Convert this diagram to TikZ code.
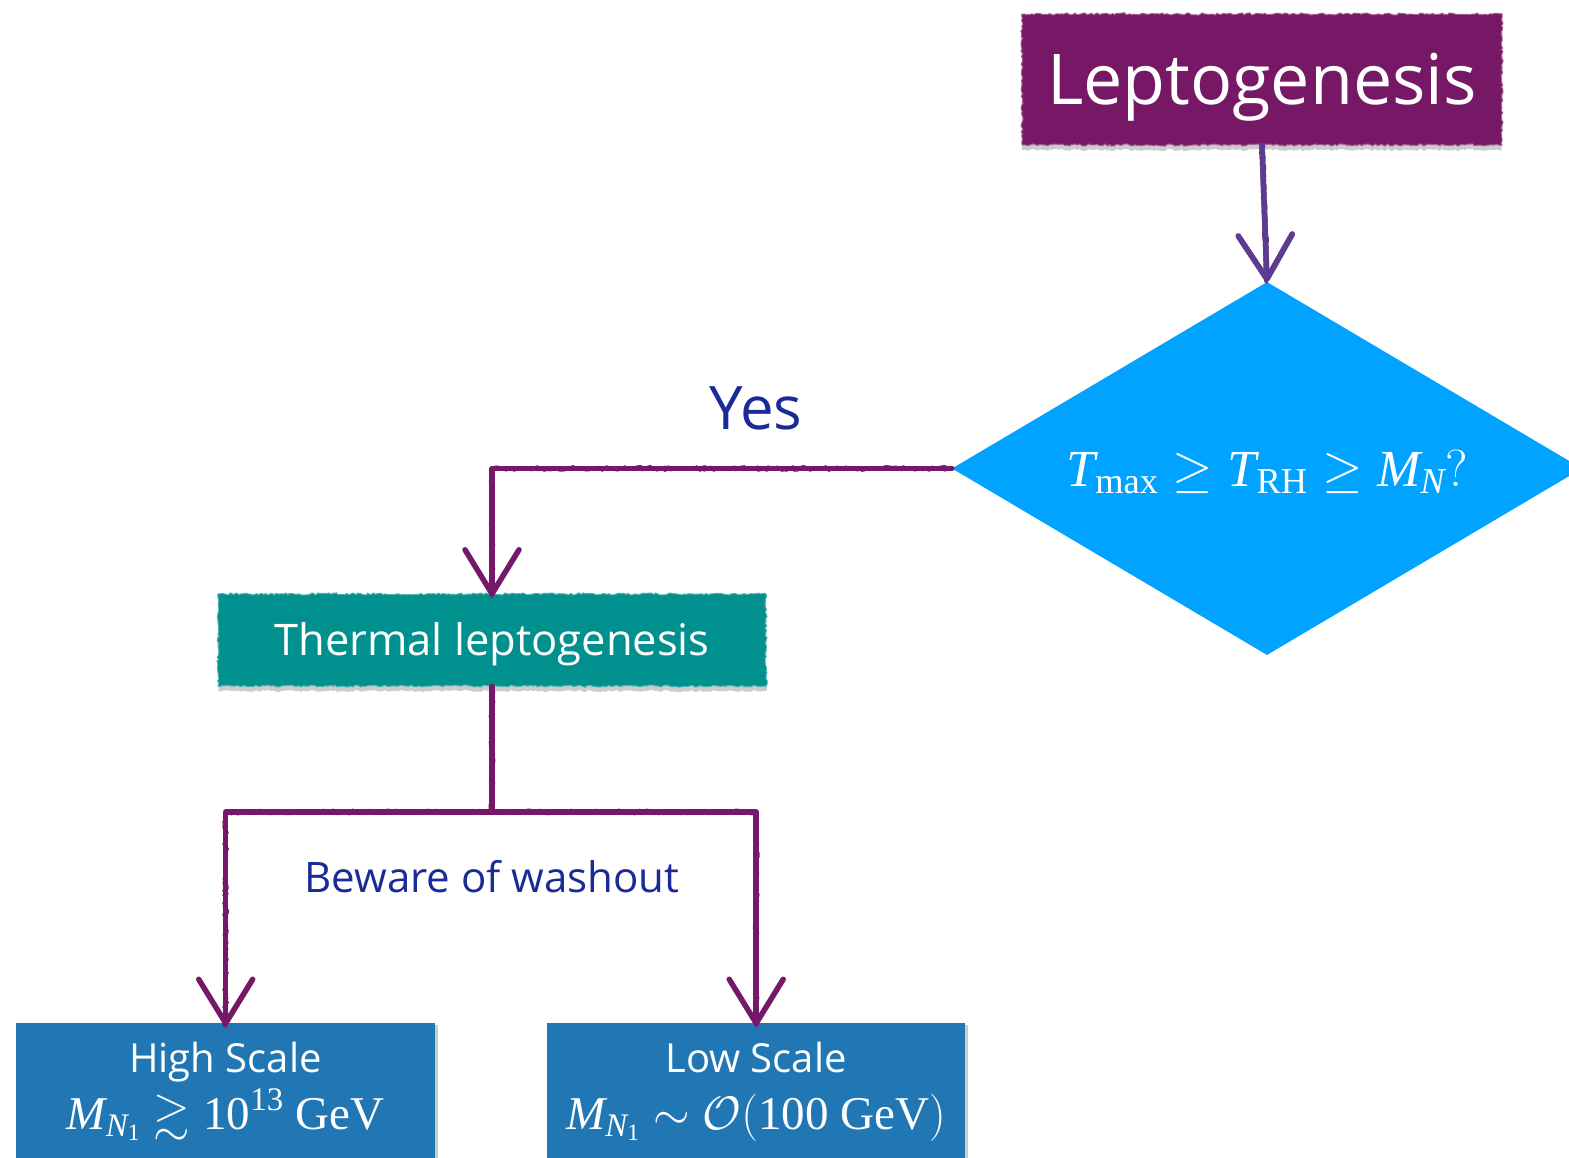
\RequirePackage{fix-cm}
\documentclass[tikz,border=0pt]{standalone}
\usepackage{amsmath,amssymb}
\usepackage{fontspec}
\setmainfont{Liberation Serif}
\newfontfamily\uifont{Open Sans}
\usetikzlibrary{shapes.geometric,arrows.meta,decorations.pathmorphing,shadows}

\definecolor{leptopurple}{RGB}{118,24,102}
\definecolor{arrowviolet}{RGB}{92,60,145}
\definecolor{linkpurple}{RGB}{117,24,105}
\definecolor{diamondblue}{RGB}{0,163,255}
\definecolor{thermalteal}{RGB}{0,145,143}
\definecolor{scaleblue}{RGB}{33,119,180}
\definecolor{notenavy}{RGB}{26,42,150}

\begin{document}
\pgfmathsetseed{7}
\begin{tikzpicture}[x=1pt,y=-1pt,
  roughedge/.style={decorate,decoration={random steps,segment length=2.5pt,amplitude=1.1pt}},
  softshadow/.style={drop shadow={shadow xshift=0pt,shadow yshift=-5pt,opacity=0.2,fill=black}},
  titlebox/.style={rectangle,inner sep=0pt,fill=leptopurple,draw=leptopurple!70!white,line width=1pt,
    roughedge,softshadow,text=white,font=\uifont\fontsize{70}{80}\selectfont,
    text height=50pt,text depth=0pt},
  thermalbox/.style={rectangle,inner sep=0pt,fill=thermalteal,draw=thermalteal!70!white,line width=1pt,
    roughedge,softshadow,text=white,font=\uifont\fontsize{43.5}{52}\selectfont,
    text height=31pt,text depth=0pt},
  scalebox/.style={rectangle,inner sep=0pt,fill=scaleblue,
    drop shadow={shadow xshift=3pt,shadow yshift=-2pt,opacity=0.2,fill=black}},
  question/.style={diamond,inner sep=0pt,fill=diamondblue},
  questiontext/.style={text=white,inner sep=0pt,
    font=\fontsize{52}{62}\selectfont,text height=35pt,text depth=0pt},
  scaletitle/.style={text=white,font=\uifont\fontsize{40}{48}\selectfont,inner sep=0pt,
    text height=29pt,text depth=0pt},
  scalemath/.style={text=white,font=\fontsize{47}{56}\selectfont,inner sep=0pt,anchor=base},
  note/.style={text=notenavy,font=\uifont\fontsize{42}{50}\selectfont,inner sep=0pt},
  conn/.style={draw=linkpurple,line width=5.5pt,line cap=round,line join=round,
    -{Straight Barb[length=44pt,width=54pt,round]},
    postaction={draw=linkpurple,line width=3pt,arrows=-,decorate,
      decoration={random steps,segment length=2pt,amplitude=2pt}}},
  link/.style={draw=linkpurple,line width=5.5pt,line cap=round,line join=round,
    postaction={draw=linkpurple,line width=3pt,decorate,
      decoration={random steps,segment length=2pt,amplitude=2pt}}}]

\useasboundingbox (0,0) rectangle (1569,1158);

% boxes of the flow chart
\node[titlebox,minimum width=480pt,minimum height=131pt] (lepto) at (1262,79.5) {Leptogenesis};
\node[question,minimum width=630pt,minimum height=373pt] (ask) at (1267,468.5) {};
\node[questiontext] (asktext) at (ask.center)
  {$\mathit{T}_{\mathrm{max}}\geq \mathit{T}_{\mathrm{RH}}\geq \mathit{M}_{\mathit{N}}\mathrm{?}$};
\node[thermalbox,minimum width=548pt,minimum height=92pt] (thermal) at (492,640) {Thermal leptogenesis};
\node[scalebox,minimum width=419pt,minimum height=180pt,anchor=north west] (high) at (16,1023) {};
\node[scalebox,minimum width=418pt,minimum height=180pt,anchor=north west] (low) at (547,1023) {};

% texts inside the scale boxes
\node[scaletitle] (hightitle) at (225.5,1058) {High Scale};
\node[scalemath] (highmath) at (225.5,1129)
  {$\mathit{M}_{\mathit{N}_{\mathrm{1}}}\gtrsim \mathrm{10}^{\mathrm{13}}\ \mathrm{GeV}$};
\node[scaletitle] (lowtitle) at (756,1058) {Low Scale};
\node[scalemath] (lowmath) at (756,1129)
  {$\mathit{M}_{\mathit{N}_{\mathrm{1}}}\sim \mathcal{O}\mathrm{(100\ GeV)}$};

% free labels
\node[note,font=\uifont\fontsize{60}{70}\selectfont] (yes) at (756,408) {Yes};
\node[note] (washout) at (492,877) {Beware of washout};

% connectors
\draw[conn,draw=arrowviolet,postaction={draw=arrowviolet}] (lepto.south) -- (ask.north);
\draw[conn] (ask.west) -| ([yshift=-3pt]thermal.north);
\coordinate (split) at (thermal.south |- 0,812);
\draw[link] (thermal.south) -- (split);
\draw[conn] (split) -| ([yshift=-3pt]high.north);
\draw[conn] (split) -| ([yshift=-3pt]low.north);
\end{tikzpicture}
\end{document}
